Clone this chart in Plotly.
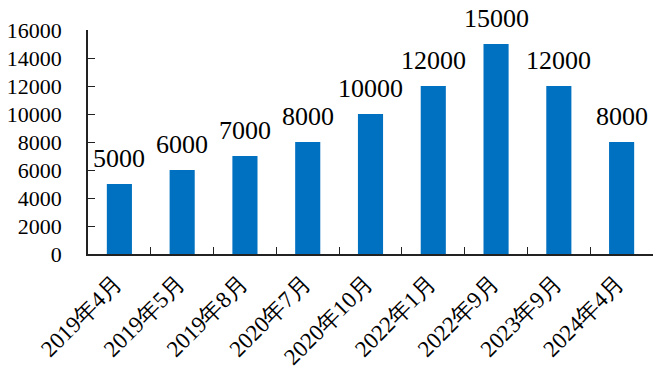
import plotly.graph_objects as go

categories = ["2019年4月", "2019年5月", "2019年8月", "2020年7月", "2020年10月",
              "2022年1月", "2022年9月", "2023年9月", "2024年4月"]
values = [5000, 6000, 7000, 8000, 10000, 12000, 15000, 12000, 8000]
y_ticks = [0, 2000, 4000, 6000, 8000, 10000, 12000, 14000, 16000]

font_fam = "Liberation Serif"

fig = go.Figure(go.Bar(
    x=categories, y=values,
    marker=dict(color="#0070C0", line=dict(width=0)),
    width=0.4,
    cliponaxis=False,
))

for c, v in zip(categories, values):
    fig.add_annotation(
        x=c, y=v, text=str(v), showarrow=False,
        xanchor="center", yanchor="bottom", yshift=9,
        font=dict(family=font_fam, size=26, color="black"),
    )

fig.update_layout(
    width=654, height=369,
    margin=dict(l=88, r=1, t=30, b=115, autoexpand=False),
    paper_bgcolor="white", plot_bgcolor="white",
    showlegend=False,
    font=dict(family=font_fam, color="black"),
    bargap=0.6,
)
fig.update_xaxes(
    type="category", automargin=False,
    showline=True, linecolor="#222", linewidth=1.5,
    ticks="inside", tickson="boundaries", ticklen=7, tickcolor="#222", tickwidth=1.2,
    tickangle=-45, tickfont=dict(family=font_fam, size=23, color="black"),
    ticklabelstandoff=5, ticklabelshift=-4,
    showgrid=False, zeroline=False,
)
fig.update_yaxes(
    range=[0, 16000], tickvals=y_ticks, ticktext=[str(t) for t in y_ticks],
    automargin=False,
    showline=True, linecolor="#222", linewidth=1.5,
    ticks="inside", ticklen=7, tickcolor="#222", tickwidth=1.2,
    tickfont=dict(family=font_fam, size=22, color="black"),
    ticklabelstandoff=20,
    showgrid=False, zeroline=False,
)

fig.write_html("out.html")
